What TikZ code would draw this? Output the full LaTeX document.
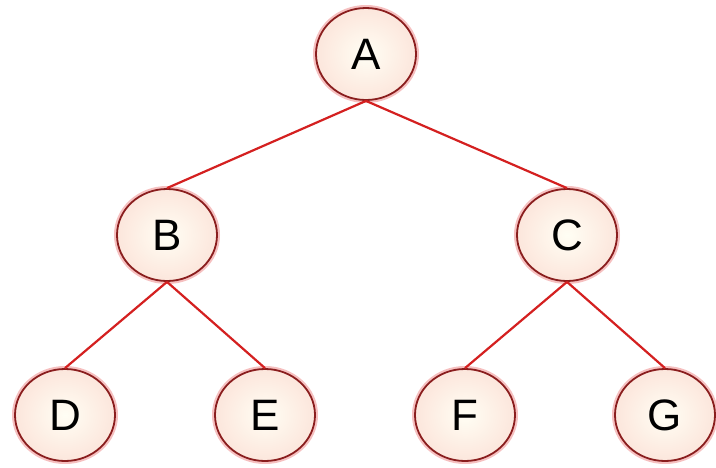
\documentclass[tikz,border=0pt]{standalone}
\usepackage{fontspec}
\setmainfont{Liberation Sans}
\usetikzlibrary{shapes.geometric}
\definecolor{rimcol}{HTML}{8A1E1E}
\definecolor{glowcol}{HTML}{F6C0C0}
\definecolor{edgecol}{HTML}{D42020}
\definecolor{fillout}{HTML}{FCE6DC}
\definecolor{fillin}{HTML}{FFFEF4}
\tikzset{
  treenode/.style={ellipse, minimum width=100pt, minimum height=92pt, inner sep=0pt,
    draw=rimcol, line width=1.8pt,
    inner color=fillin, outer color=fillout,
    preaction={draw=glowcol, line width=6pt},
    font=\fontsize{44}{44}\selectfont, text=black},
  treeedge/.style={draw=edgecol, line width=2.2pt}
}
\begin{document}
\begin{tikzpicture}[x=1pt,y=-1pt]
\useasboundingbox (0,0) rectangle (716,467);
\fill[white] (0,0) rectangle (716,467);
\node[treenode] (A) at (366,54) {A};
\node[treenode] (B) at (167,235) {B};
\node[treenode] (C) at (567,235) {C};
\node[treenode] (D) at (65,415) {D};
\node[treenode] (E) at (265,415) {E};
\node[treenode] (F) at (465,415) {F};
\node[treenode] (G) at (665,415) {G};
\draw[treeedge] (A.south) -- (B.north);
\draw[treeedge] (A.south) -- (C.north);
\draw[treeedge] (B.south) -- (D.north);
\draw[treeedge] (B.south) -- (E.north);
\draw[treeedge] (C.south) -- (F.north);
\draw[treeedge] (C.south) -- (G.north);
\end{tikzpicture}
\end{document}
